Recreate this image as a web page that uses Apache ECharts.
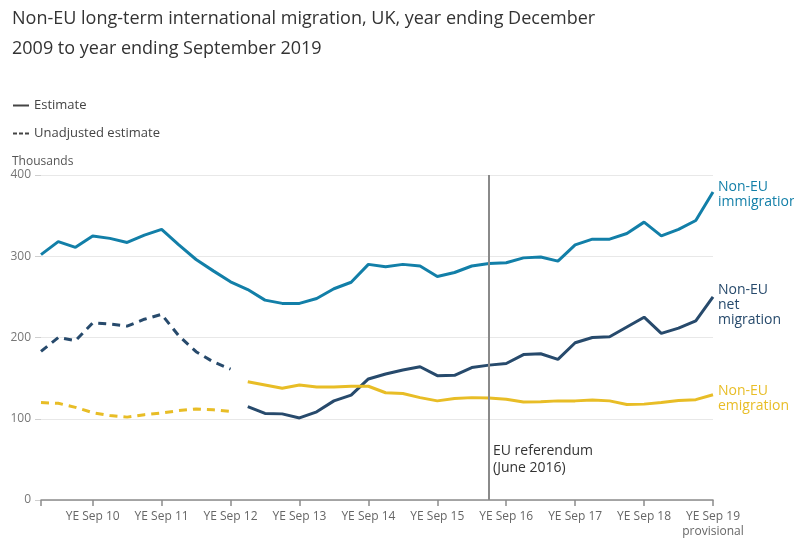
<!DOCTYPE html>
<html>
<head>
<meta charset="utf-8">
<script src="https://cdn.jsdelivr.net/npm/echarts@6/dist/echarts.min.js"></script>
<style>
html,body{margin:0;padding:0;background:#fff;}
#chart{width:794px;height:540px;}
</style>
</head>
<body>
<div id="chart"></div>
<script>
const categories = [
  'YE Dec 09',
  'YE Mar 10','YE Jun 10','YE Sep 10','YE Dec 10',
  'YE Mar 11','YE Jun 11','YE Sep 11','YE Dec 11',
  'YE Mar 12','YE Jun 12','YE Sep 12','YE Dec 12',
  'YE Mar 13','YE Jun 13','YE Sep 13','YE Dec 13',
  'YE Mar 14','YE Jun 14','YE Sep 14','YE Dec 14',
  'YE Mar 15','YE Jun 15','YE Sep 15','YE Dec 15',
  'YE Mar 16','YE Jun 16','YE Sep 16','YE Dec 16',
  'YE Mar 17','YE Jun 17','YE Sep 17','YE Dec 17',
  'YE Mar 18','YE Jun 18','YE Sep 18','YE Dec 18',
  'YE Mar 19','YE Jun 19','YE Sep 19'
];
const tickLabels = {
  'YE Sep 10':'YE Sep 10','YE Sep 11':'YE Sep 11','YE Sep 12':'YE Sep 12',
  'YE Sep 13':'YE Sep 13','YE Sep 14':'YE Sep 14','YE Sep 15':'YE Sep 15',
  'YE Sep 16':'YE Sep 16','YE Sep 17':'YE Sep 17','YE Sep 18':'YE Sep 18',
  'YE Sep 19':'YE Sep 19\nprovisional'
};
const immigration = [302,318,311,325,322,317,326,333,314,296,282,268.5,259,246,242,242,248,260,268,290,287,290,288,275,280,288,291,292,298,299,294,314,321,321,328,342,325,333,344,379];
const netUnadjusted = [183,200,196,218,216.5,214,222.5,228.5,202,182.5,170,161];
const netEstimate = [115,106.5,106,101,108.5,122,129,149,155,160,164,153,153.5,163,166,168,179,180,173,193.5,200,201,213,225,205,211.5,220.5,250];
const emiUnadjusted = [120,119,114,107.5,104,102,105,107,110,112,111,109];
const emiEstimate = [145.5,141.5,137.5,141.5,139,139,140,140,132,131,126,122,125,126,125.5,124,120.5,121,122,122,123,122,117.5,118,120,122.5,123.5,129.5];
const referendumCategory = 'YE Jun 16';

const C_IMM = '#127fa8';
const C_NET = '#274a6c';
const C_EMI = '#e8bd26';
const FONT = 'Open Sans';

const pad = (arr, before, total) => {
  const out = [];
  for (let i = 0; i < before; i++) out.push(null);
  arr.forEach(v => out.push(v));
  while (out.length < total) out.push(null);
  return out;
};
const N = categories.length;
const netUnadjFull = pad(netUnadjusted, 0, N);
const netEstFull = pad(netEstimate, N - netEstimate.length, N);
const emiUnadjFull = pad(emiUnadjusted, 0, N);
const emiEstFull = pad(emiEstimate, N - emiEstimate.length, N);

const chart = echarts.init(document.getElementById('chart'), null, {renderer:'canvas'});
const dash = [8, 6];
const option = {
  animation: false,
  textStyle: {fontFamily: FONT},
  title: {
    text: 'Non-EU long-term international migration, UK, year ending December\n2009 to year ending September 2019',
    left: 7, top: -1,
    textStyle: {fontFamily: FONT, fontSize: 18, fontWeight: 'normal', color: '#333', lineHeight: 30}
  },
  legend: {
    data: ['Estimate', 'Unadjusted estimate'],
    orient: 'vertical', left: 7, top: 94,
    itemWidth: 16, itemHeight: 14, itemGap: 15,
    itemStyle: {opacity: 0},
    textStyle: {fontFamily: FONT, fontSize: 13, color: '#444'},
    selectedMode: false
  },
  grid: {left: 41, right: 81, top: 175, bottom: 40, containLabel: false},
  xAxis: {
    type: 'category',
    data: categories,
    boundaryGap: false,
    axisLine: {lineStyle: {color: '#8c8c8c', width: 1.5}},
    axisTick: {
      length: 6, lineStyle: {color: '#8c8c8c', width: 1.5},
      interval: (i) => i === 0 || (i - 3) % 4 === 0
    },
    axisLabel: {
      interval: (i) => (i - 3) % 4 === 0,
      formatter: (v) => tickLabels[v] || '',
      fontFamily: FONT, fontSize: 12, color: '#666', margin: 9, lineHeight: 15
    },
    splitLine: {show: false}
  },
  yAxis: {
    type: 'value', min: 0, max: 400, interval: 100,
    axisLine: {show: false},
    axisTick: {show: true, length: 6, lineStyle: {color: '#cfcfcf'}},
    axisLabel: {fontFamily: FONT, fontSize: 12, color: '#777', margin: 10},
    splitLine: {lineStyle: {color: '#e8e8e8', width: 1}}
  },
  series: [
    {
      name: 'Estimate', type: 'line', data: [], symbol: 'none',
      color: '#444', lineStyle: {color: '#444', width: 1.2, type: 'solid'}
    },
    {
      name: 'Unadjusted estimate', type: 'line', data: [], symbol: 'none',
      color: '#444', lineStyle: {color: '#444', width: 2.5, type: [4, 2]}
    },
    {
      name: 'Non-EU immigration', type: 'line', data: immigration, symbol: 'none',
      color: C_IMM, lineStyle: {color: C_IMM, width: 3}, z: 3,
      endLabel: {show: true, formatter: 'Non-EU\nimmigration', color: C_IMM, fontFamily: FONT, fontSize: 14, lineHeight: 15, distance: 5, align: 'left', verticalAlign: 'middle', offset: [0, 2]},
      markLine: {
        silent: true, symbol: 'none', animation: false,
        lineStyle: {color: '#8a8a8a', width: 2, type: 'solid'},
        label: {show: false},
        data: [{xAxis: referendumCategory}]
      }
    },
    {
      name: 'Non-EU net migration (unadjusted)', type: 'line', data: netUnadjFull, symbol: 'none',
      color: C_NET, lineStyle: {color: C_NET, width: 3, type: dash}, z: 3
    },
    {
      name: 'Non-EU net migration', type: 'line', data: netEstFull, symbol: 'none',
      color: C_NET, lineStyle: {color: C_NET, width: 3}, z: 3,
      endLabel: {show: true, formatter: 'Non-EU\nnet\nmigration', color: C_NET, fontFamily: FONT, fontSize: 14, lineHeight: 15, distance: 5, align: 'left', verticalAlign: 'middle', offset: [0, 8]}
    },
    {
      name: 'Non-EU emigration (unadjusted)', type: 'line', data: emiUnadjFull, symbol: 'none',
      color: C_EMI, lineStyle: {color: C_EMI, width: 3, type: dash}, z: 3
    },
    {
      name: 'Non-EU emigration', type: 'line', data: emiEstFull, symbol: 'none',
      color: C_EMI, lineStyle: {color: C_EMI, width: 3}, z: 3,
      endLabel: {show: true, formatter: 'Non-EU\nemigration', color: C_EMI, fontFamily: FONT, fontSize: 14, lineHeight: 15, distance: 5, align: 'left', verticalAlign: 'middle', offset: [0, 3.5]}
    }
  ]
};
chart.setOption(option);

const refX = chart.convertToPixel({xAxisIndex: 0}, referendumCategory);
const refY = chart.convertToPixel({yAxisIndex: 0}, 50);
const thY = chart.convertToPixel({yAxisIndex: 0}, 400);
chart.setOption({
  graphic: [
    {
      type: 'text', left: 12, top: thY - 19,
      style: {text: 'Thousands', fontFamily: FONT, fontSize: 12, fill: '#555'}
    },
    {
      type: 'text', x: refX + 4, y: refY,
      style: {text: 'EU referendum\n(June 2016)', fontFamily: FONT, fontSize: 14, lineHeight: 17, fill: '#333', verticalAlign: 'middle'}
    }
  ]
});
</script>
</body>
</html>
